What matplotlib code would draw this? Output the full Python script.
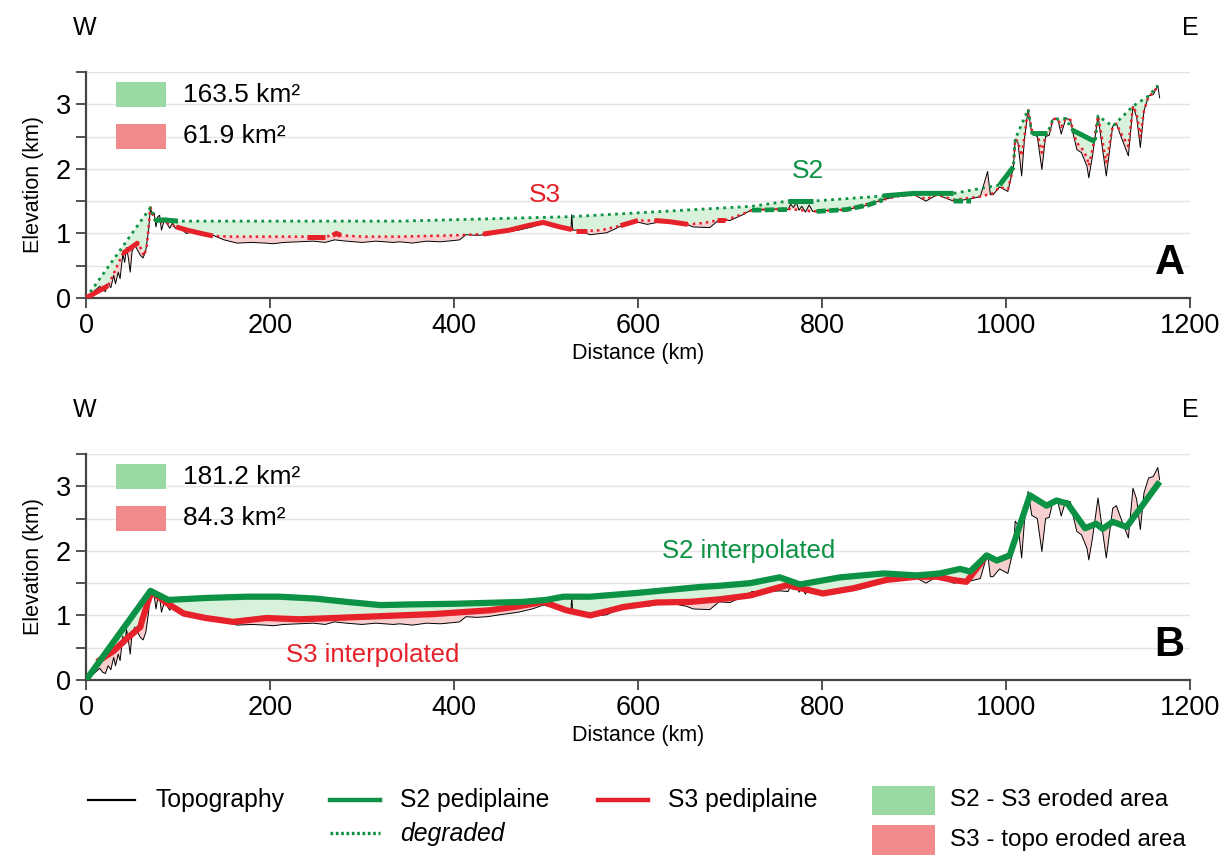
import numpy as np
import matplotlib
matplotlib.use("Agg")
import matplotlib.pyplot as plt
from matplotlib.lines import Line2D
from matplotlib.patches import Rectangle

plt.rcParams['font.family'] = ['Liberation Sans Narrow', 'Liberation Sans', 'DejaVu Sans']

GREEN = '#0c9244'
RED = '#e62129'
GREEN_FILL = '#d8f1da'
RED_FILL = '#f8cfcf'
GREEN_KEY = '#9ad8a4'
RED_KEY = '#f28a8c'

# topography profile W-E (distance km, elevation km)
topo_d = [0, 5, 10, 15, 18, 21, 24, 27, 30, 32, 35, 37, 40, 42, 44, 46, 48, 50, 53, 56,
          59, 62, 65, 68, 70, 72, 74, 76, 78, 80, 82, 85, 88, 91, 94, 97, 100, 104, 109, 115,
          125, 138, 150, 164, 180, 195, 203, 215, 230, 247, 260, 270, 283, 300, 315, 334, 341, 355, 370, 385,
          400, 406, 413, 425, 436, 450, 470, 485, 497, 510, 527, 528, 529, 534, 548, 566, 584, 595, 610, 632,
          653, 660, 678, 688, 700, 714, 724, 740, 755, 763, 766, 769, 772, 775, 778, 782, 786, 790, 794, 810,
          827, 845, 866, 880, 900, 913, 925, 943, 960, 972, 980, 983, 986, 993, 1002, 1008, 1010, 1013, 1017, 1020,
          1024, 1028, 1034, 1039, 1043, 1047, 1051, 1056, 1060, 1065, 1070, 1073, 1077, 1082, 1088, 1090, 1094, 1100, 1104, 1109,
          1116, 1120, 1125, 1133, 1138, 1142, 1146, 1150, 1155, 1160, 1165, 1167]
topo_e = [0.0, 0.05, 0.12, 0.18, 0.12, 0.10, 0.22, 0.16, 0.35, 0.22, 0.40, 0.30, 0.68, 0.55, 0.78, 0.62, 0.40, 0.72, 0.82, 0.74,
          0.66, 0.62, 0.74, 1.05, 1.40, 1.28, 1.32, 1.10, 1.26, 1.28, 1.05, 1.20, 1.15, 1.08, 1.16, 1.08, 1.12, 1.06, 1.00, 1.02,
          1.00, 0.97, 0.90, 0.85, 0.86, 0.85, 0.84, 0.86, 0.87, 0.88, 0.86, 0.90, 0.88, 0.86, 0.88, 0.86, 0.87, 0.85, 0.88, 0.87,
          0.89, 0.90, 0.98, 0.97, 0.98, 1.01, 1.05, 1.10, 1.16, 1.12, 1.06, 1.29, 1.05, 1.05, 0.98, 1.01, 1.13, 1.19, 1.14, 1.20,
          1.14, 1.10, 1.09, 1.21, 1.20, 1.29, 1.37, 1.37, 1.38, 1.37, 1.45, 1.40, 1.48, 1.36, 1.42, 1.33, 1.44, 1.34, 1.34, 1.36,
          1.37, 1.42, 1.52, 1.57, 1.60, 1.50, 1.60, 1.50, 1.53, 1.57, 1.96, 1.60, 1.60, 1.72, 1.65, 2.02, 2.46, 2.40, 1.89, 2.45,
          2.92, 2.55, 2.50, 1.99, 2.50, 2.52, 2.77, 2.78, 2.54, 2.78, 2.76, 2.54, 2.30, 2.25, 2.04, 1.86, 2.20, 2.82, 2.40, 1.89,
          2.66, 2.70, 2.50, 2.20, 2.97, 2.80, 2.33, 2.90, 3.13, 3.15, 3.29, 3.10]

# panel A - S2 pediplaine (full trace, dotted where degraded)
s2a_d = [0, 70, 75, 85, 100, 200, 341, 528, 724, 763, 790, 866, 900, 943, 966, 993, 1008, 1010,
         1024, 1028, 1045, 1051, 1065, 1072, 1097, 1100, 1116, 1138, 1155, 1165]
s2a_e = [0.0, 1.40, 1.20, 1.21, 1.19, 1.19, 1.19, 1.26, 1.42, 1.50, 1.50, 1.58, 1.62, 1.62, 1.68, 1.75, 2.03, 2.46,
         2.92, 2.55, 2.55, 2.77, 2.78, 2.60, 2.42, 2.82, 2.66, 2.97, 3.13, 3.29]
s2a_solid = [(75, 100), (763, 790), (866, 943), (993, 1008), (1028, 1045), (1072, 1097)]
# panel A - S2 remnants lying lower (thick dashed)
s2a_low_d = [724, 763, np.nan, 794, 827, 850, 866, np.nan, 943, 962]
s2a_low_e = [1.36, 1.37, np.nan, 1.34, 1.37, 1.44, 1.52, np.nan, 1.50, 1.50]

# panel A - S3 pediplaine
s3a_d = [0, 24, 40, 57, 60, 63, 66, 70, 75, 82, 90, 98, 110, 125, 138, 160, 200, 240, 260, 268,
         272, 277, 300, 341, 400, 432, 460, 480, 497, 515, 528, 533, 545, 560, 581, 600, 618, 635, 654, 670,
         686, 694, 710, 724, 740, 763, 790, 827, 866, 880, 900, 913, 925, 943, 972, 986, 993, 1002, 1008, 1010,
         1013, 1017, 1020, 1024, 1028, 1034, 1039, 1043, 1047, 1051, 1056, 1060, 1065, 1070, 1073, 1077, 1082, 1088, 1090, 1094,
         1100, 1104, 1109, 1116, 1120, 1125, 1133, 1138, 1142, 1146, 1150, 1155, 1160, 1165]
s3a_e = [0.0, 0.19, 0.69, 0.86, 0.75, 0.65, 0.80, 1.40, 1.20, 1.18, 1.15, 1.10, 1.05, 1.00, 0.96, 0.95, 0.95, 0.95, 0.95, 0.97,
         1.00, 0.97, 0.95, 0.95, 0.97, 0.99, 1.05, 1.12, 1.17, 1.10, 1.06, 1.04, 1.04, 1.05, 1.12, 1.20, 1.20, 1.18, 1.14, 1.16,
         1.20, 1.20, 1.28, 1.36, 1.37, 1.38, 1.34, 1.37, 1.52, 1.57, 1.60, 1.53, 1.60, 1.52, 1.57, 1.62, 1.72, 1.68, 2.02, 2.46,
         2.42, 2.20, 2.50, 2.92, 2.60, 2.55, 2.25, 2.52, 2.55, 2.77, 2.78, 2.65, 2.78, 2.76, 2.58, 2.40, 2.33, 2.18, 2.05, 2.30,
         2.82, 2.50, 2.10, 2.66, 2.70, 2.55, 2.35, 2.97, 2.85, 2.50, 2.90, 3.13, 3.17, 3.29]
s3a_solid = [(0, 24), (40, 57), (98, 138), (240, 260), (268, 277), (432, 528), (533, 545),
             (581, 600), (618, 654), (686, 694)]

# panel B - interpolated surfaces
s2b_d = [0, 70, 89.5, 130, 175, 210, 250, 283, 320, 352, 400, 475, 500, 519, 548, 600, 667, 689, 722, 754,
         776, 820, 867, 903, 928, 950, 961, 979, 990, 1004, 1026, 1044, 1055, 1067, 1086, 1098, 1105, 1116, 1131, 1146, 1167]
s2b_e = [0.0, 1.38, 1.24, 1.27, 1.29, 1.29, 1.26, 1.21, 1.16, 1.17, 1.18, 1.21, 1.24, 1.29, 1.29, 1.35, 1.44, 1.46, 1.50, 1.59,
         1.48, 1.59, 1.65, 1.62, 1.65, 1.72, 1.68, 1.93, 1.85, 1.93, 2.86, 2.70, 2.78, 2.73, 2.35, 2.42, 2.34, 2.45, 2.37, 2.66, 3.07]
s3b_d = [12, 30, 45, 59, 61, 71, 88, 106, 130, 160, 196, 232, 270, 305, 377, 439, 470, 497, 522, 548,
         584, 620, 657, 689, 722, 762, 801, 834, 870, 903, 925, 942, 957, 979]
s3b_e = [0.28, 0.45, 0.65, 0.82, 0.93, 1.37, 1.19, 1.03, 0.96, 0.90, 0.96, 0.94, 0.96, 0.98, 1.02, 1.08, 1.14, 1.21, 1.08, 1.00,
         1.13, 1.20, 1.21, 1.25, 1.31, 1.47, 1.34, 1.42, 1.55, 1.60, 1.60, 1.55, 1.52, 1.93]

areas_a = ['163.5 km²', '61.9 km²']
areas_b = ['181.2 km²', '84.3 km²']

topo_d, topo_e = np.array(topo_d), np.array(topo_e)
s2a_d, s2a_e = np.array(s2a_d), np.array(s2a_e)
s3a_d, s3a_e = np.array(s3a_d), np.array(s3a_e)
s2b_d, s2b_e = np.array(s2b_d), np.array(s2b_e)
s3b_d, s3b_e = np.array(s3b_d), np.array(s3b_e)


def band(ax, d1, e1, d2, e2, color):
    # polygon between two profiles
    xs = np.concatenate([d1, d2[::-1]])
    ys = np.concatenate([e1, e2[::-1]])
    ax.fill(xs, ys, color=color, lw=0, zorder=1)


def pieces(ax, d, e, ranges, **kw):
    for a, b in ranges:
        m = (d >= a) & (d <= b)
        ax.plot(d[m], e[m], solid_capstyle='butt', **kw)


def style_axes(ax, areas):
    ax.set_xlim(0, 1200)
    ax.set_ylim(0, 3.5)
    ax.set_xticks(range(0, 1201, 200))
    ax.set_yticks([0, 1, 2, 3])
    ax.set_yticks([0.5, 1.5, 2.5, 3.5], minor=True)
    ax.grid(which='both', axis='y', color='#e4e4e4', lw=1.0, zorder=0)
    ax.set_axisbelow(True)
    for s in ['top', 'right']:
        ax.spines[s].set_visible(False)
    for s in ['left', 'bottom']:
        ax.spines[s].set_color('#444444')
        ax.spines[s].set_linewidth(1.6)
    ax.tick_params(which='both', direction='out', length=7, width=1.3, color='#444444',
                   labelsize=19.5, pad=4)
    ax.set_xlabel('Distance (km)', fontsize=15.5, labelpad=3)
    ax.set_ylabel('Elevation (km)', fontsize=15.5, labelpad=8)
    # area key
    ax.add_patch(Rectangle((0.027, 0.845), 0.045, 0.11, transform=ax.transAxes,
                           color=GREEN_KEY, lw=0, clip_on=False))
    ax.add_patch(Rectangle((0.027, 0.66), 0.045, 0.11, transform=ax.transAxes,
                           color=RED_KEY, lw=0, clip_on=False))
    ax.text(0.088, 0.90, areas[0], transform=ax.transAxes, fontsize=19, va='center')
    ax.text(0.088, 0.715, areas[1], transform=ax.transAxes, fontsize=19, va='center')


fig = plt.figure(figsize=(12.31, 8.55), dpi=100)
axA = fig.add_axes([0.0699, 0.6515, 0.8968, 0.2643])
axB = fig.add_axes([0.0699, 0.2047, 0.8968, 0.2643])

# ---- panel A
band(axA, s2a_d, s2a_e, s3a_d, s3a_e, GREEN_FILL)
band(axA, s3a_d, s3a_e, topo_d, topo_e, RED_FILL)
axA.plot(topo_d, topo_e, color='black', lw=0.7, zorder=3)
axA.plot(s3a_d, s3a_e, color=RED, lw=1.8, ls=(0, (1, 1.6)), zorder=4)
axA.plot(s2a_d, s2a_e, color=GREEN, lw=2.0, ls=(0, (1, 1.6)), zorder=4)
axA.plot(s2a_low_d, s2a_low_e, color=GREEN, lw=3.4, ls=(0, (2, 0.7)), zorder=5)
pieces(axA, s3a_d, s3a_e, s3a_solid, color=RED, lw=3.6, zorder=5)
pieces(axA, s2a_d, s2a_e, s2a_solid, color=GREEN, lw=3.6, zorder=5)
axA.text(499, 1.6, 'S3', color=RED, fontsize=19, ha='center', va='center')
axA.text(785, 1.96, 'S2', color=GREEN, fontsize=19, ha='center', va='center')
style_axes(axA, areas_a)
axA.text(0.995, 0.065, 'A', transform=axA.transAxes, fontsize=30, fontweight='bold',
         ha='right', va='bottom')

# ---- panel B
band(axB, s2b_d[s2b_d <= 979], s2b_e[s2b_d <= 979], s3b_d, s3b_e, GREEN_FILL)
low_d = np.concatenate([s3b_d, s2b_d[s2b_d > 979]])
low_e = np.concatenate([s3b_e, s2b_e[s2b_d > 979]])
band(axB, low_d, low_e, topo_d, topo_e, RED_FILL)
axB.plot(topo_d, topo_e, color='black', lw=0.7, zorder=3)
axB.plot(s3b_d, s3b_e, color=RED, lw=4.5, zorder=4, solid_capstyle='butt')
axB.plot(s2b_d, s2b_e, color=GREEN, lw=4.5, zorder=5, solid_capstyle='butt')
axB.text(720, 2.0, 'S2 interpolated', color=GREEN, fontsize=18.5, ha='center', va='center')
axB.text(312, 0.39, 'S3 interpolated', color=RED, fontsize=18.5, ha='center', va='center')
style_axes(axB, areas_b)
axB.text(0.995, 0.065, 'B', transform=axB.transAxes, fontsize=30, fontweight='bold',
         ha='right', va='bottom')

# W / E orientation
for y in (0.967, 0.52):
    fig.text(0.069, y, 'W', fontsize=18, ha='center', va='center')
    fig.text(0.967, y, 'E', fontsize=18, ha='center', va='center')

# ---- bottom key
r1, r2 = 0.0643, 0.021
fs = 17.8
fig.add_artist(Line2D([0.0715, 0.1097], [r1, r1], color='black', lw=1.6, transform=fig.transFigure))
fig.text(0.126, r1, 'Topography', fontsize=fs, va='center')
fig.add_artist(Line2D([0.268, 0.309], [r1, r1], color=GREEN, lw=3.2, transform=fig.transFigure))
fig.text(0.325, r1, 'S2 pediplaine', fontsize=fs, va='center')
fig.add_artist(Line2D([0.268, 0.309], [r2 + 0.005, r2 + 0.005], color=GREEN, lw=2.4,
                      ls=(0, (0.8, 0.8)), transform=fig.transFigure))
fig.text(0.325, r2 + 0.003, 'degraded', fontsize=fs, va='center', style='italic')
fig.add_artist(Line2D([0.486, 0.526], [r1, r1], color=RED, lw=3.2, transform=fig.transFigure))
fig.text(0.543, r1, 'S3 pediplaine', fontsize=fs, va='center')
fig.add_artist(Rectangle((0.7084, 0.047), 0.051, 0.034, color=GREEN_KEY, lw=0, transform=fig.transFigure))
fig.text(0.772, r1, 'S2 - S3 eroded area', fontsize=fs - 0.3, va='center')
fig.add_artist(Rectangle((0.7084, 0.0), 0.051, 0.035, color=RED_KEY, lw=0, transform=fig.transFigure))
fig.text(0.772, r2 - 0.004, 'S3 - topo eroded area', fontsize=fs - 0.3, va='center')

fig.savefig('out.png', dpi=100)
